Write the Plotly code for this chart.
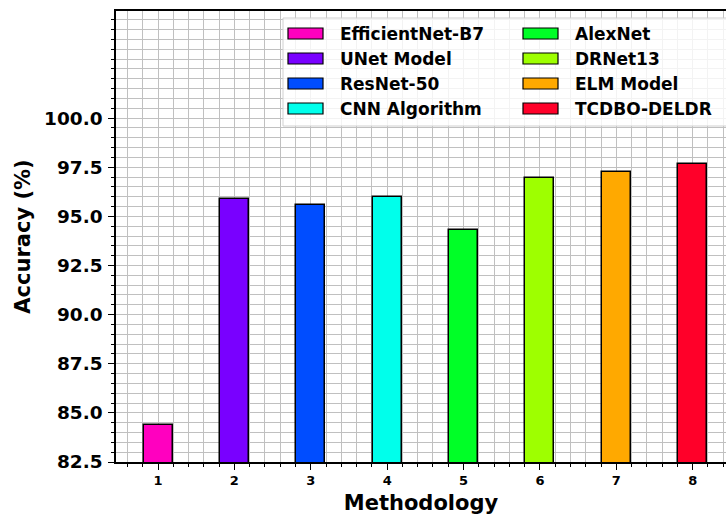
import plotly.graph_objects as go

# ---- data ----
methods = ["EfficientNet-B7", "UNet Model", "ResNet-50", "CNN Algorithm",
           "AlexNet", "DRNet13", "ELM Model", "TCDBO-DELDR"]
positions = [1, 2, 3, 4, 5, 6, 7, 8]
accuracy = [84.37, 95.88, 95.56, 96.00, 94.29, 96.96, 97.24, 97.65]
colors = ["#ff00bf", "#7900ff", "#004dff", "#00ffeb",
          "#00ff27", "#9eff00", "#ffa900", "#ff0029"]
y_ticks = [82.5, 85.0, 87.5, 90.0, 92.5, 95.0, 97.5, 100.0]
x_ticks = [1, 2, 3, 4, 5, 6, 7, 8]

W, H = 726, 515
L, R, T, B = 116, 0, 11, 53
FONT = "DejaVu Sans"
GRID = "#c0c0c0"

fig = go.Figure()
fig.add_trace(go.Bar(
    x=positions, y=accuracy, width=0.38,
    marker=dict(color=colors, line=dict(color="black", width=1.5)),
    showlegend=False,
))

# ---- manual legend (2 columns, column-major) ----
pw, ph = W - L - R, H - T - B
def px2x(px):
    return (px - L) / pw
def py2y(py):
    return (H - B - py) / ph

shapes = [dict(type="rect", xref="paper", yref="paper",
               x0=px2x(283), x1=px2x(760), y0=py2y(126), y1=py2y(18),
               fillcolor="rgba(255,255,255,0.8)",
               line=dict(color="#d0d0d0", width=1), layer="above")]
annotations = []
col_sym_x = [288, 523]
col_txt_x = [338, 573]
row_y = [33.5, 58.5, 83.5, 108.5]
for i, (name, c) in enumerate(zip(methods, colors)):
    col, row = divmod(i, 4)
    cy = row_y[row]
    shapes.append(dict(type="rect", xref="paper", yref="paper",
                       x0=px2x(col_sym_x[col]), x1=px2x(col_sym_x[col] + 35),
                       y0=py2y(cy + 5.5), y1=py2y(cy - 5.5),
                       fillcolor=c, line=dict(color="black", width=1.2),
                       layer="above"))
    annotations.append(dict(xref="paper", yref="paper",
                            x=px2x(col_txt_x[col]), y=py2y(cy),
                            xanchor="left", yanchor="middle", showarrow=False,
                            text=name,
                            font=dict(family=FONT, size=17, color="black",
                                      weight="bold")))

fig.update_layout(
    width=W, height=H,
    margin=dict(l=L, r=R, t=T, b=B, pad=0),
    paper_bgcolor="white", plot_bgcolor="white",
    font=dict(family=FONT, color="black"),
    shapes=shapes, annotations=annotations,
    bargap=0,
)
fig.update_xaxes(
    range=[0.45, 8.436],
    tickmode="array", tickvals=x_ticks, ticktext=[str(v) for v in x_ticks],
    tickfont=dict(family=FONT, size=13, color="black", weight="bold"),
    ticks="outside", ticklen=6, tickwidth=1.2, tickcolor="black",
    showline=True, linecolor="black", linewidth=1.5, mirror=True,
    showgrid=True, gridcolor=GRID, gridwidth=1,
    minor=dict(dtick=0.2, tick0=0, ticks="outside", ticklen=3.5,
               tickcolor="black", tickwidth=1, showgrid=True,
               gridcolor=GRID, gridwidth=1),
    zeroline=False,
    title=dict(text="Methodology", standoff=10,
               font=dict(family=FONT, size=21, color="black", weight="bold")),
)
fig.update_yaxes(
    range=[82.5, 105.45],
    tickmode="array", tickvals=y_ticks, ticktext=[f"{v:.1f}" for v in y_ticks],
    tickfont=dict(family=FONT, size=18.5, color="black", weight="bold"),
    ticks="outside", ticklen=6, tickwidth=1.2, tickcolor="black",
    ticklabelstandoff=2,
    showline=True, linecolor="black", linewidth=1.5,
    showgrid=True, gridcolor=GRID, gridwidth=1,
    minor=dict(dtick=0.5, tick0=0, ticks="outside", ticklen=3.5,
               tickcolor="black", tickwidth=1, showgrid=True,
               gridcolor=GRID, gridwidth=1),
    zeroline=False,
    title=dict(text="Accuracy (%)", standoff=8,
               font=dict(family=FONT, size=21, color="black", weight="bold")),
)

fig.write_html("out.html")
